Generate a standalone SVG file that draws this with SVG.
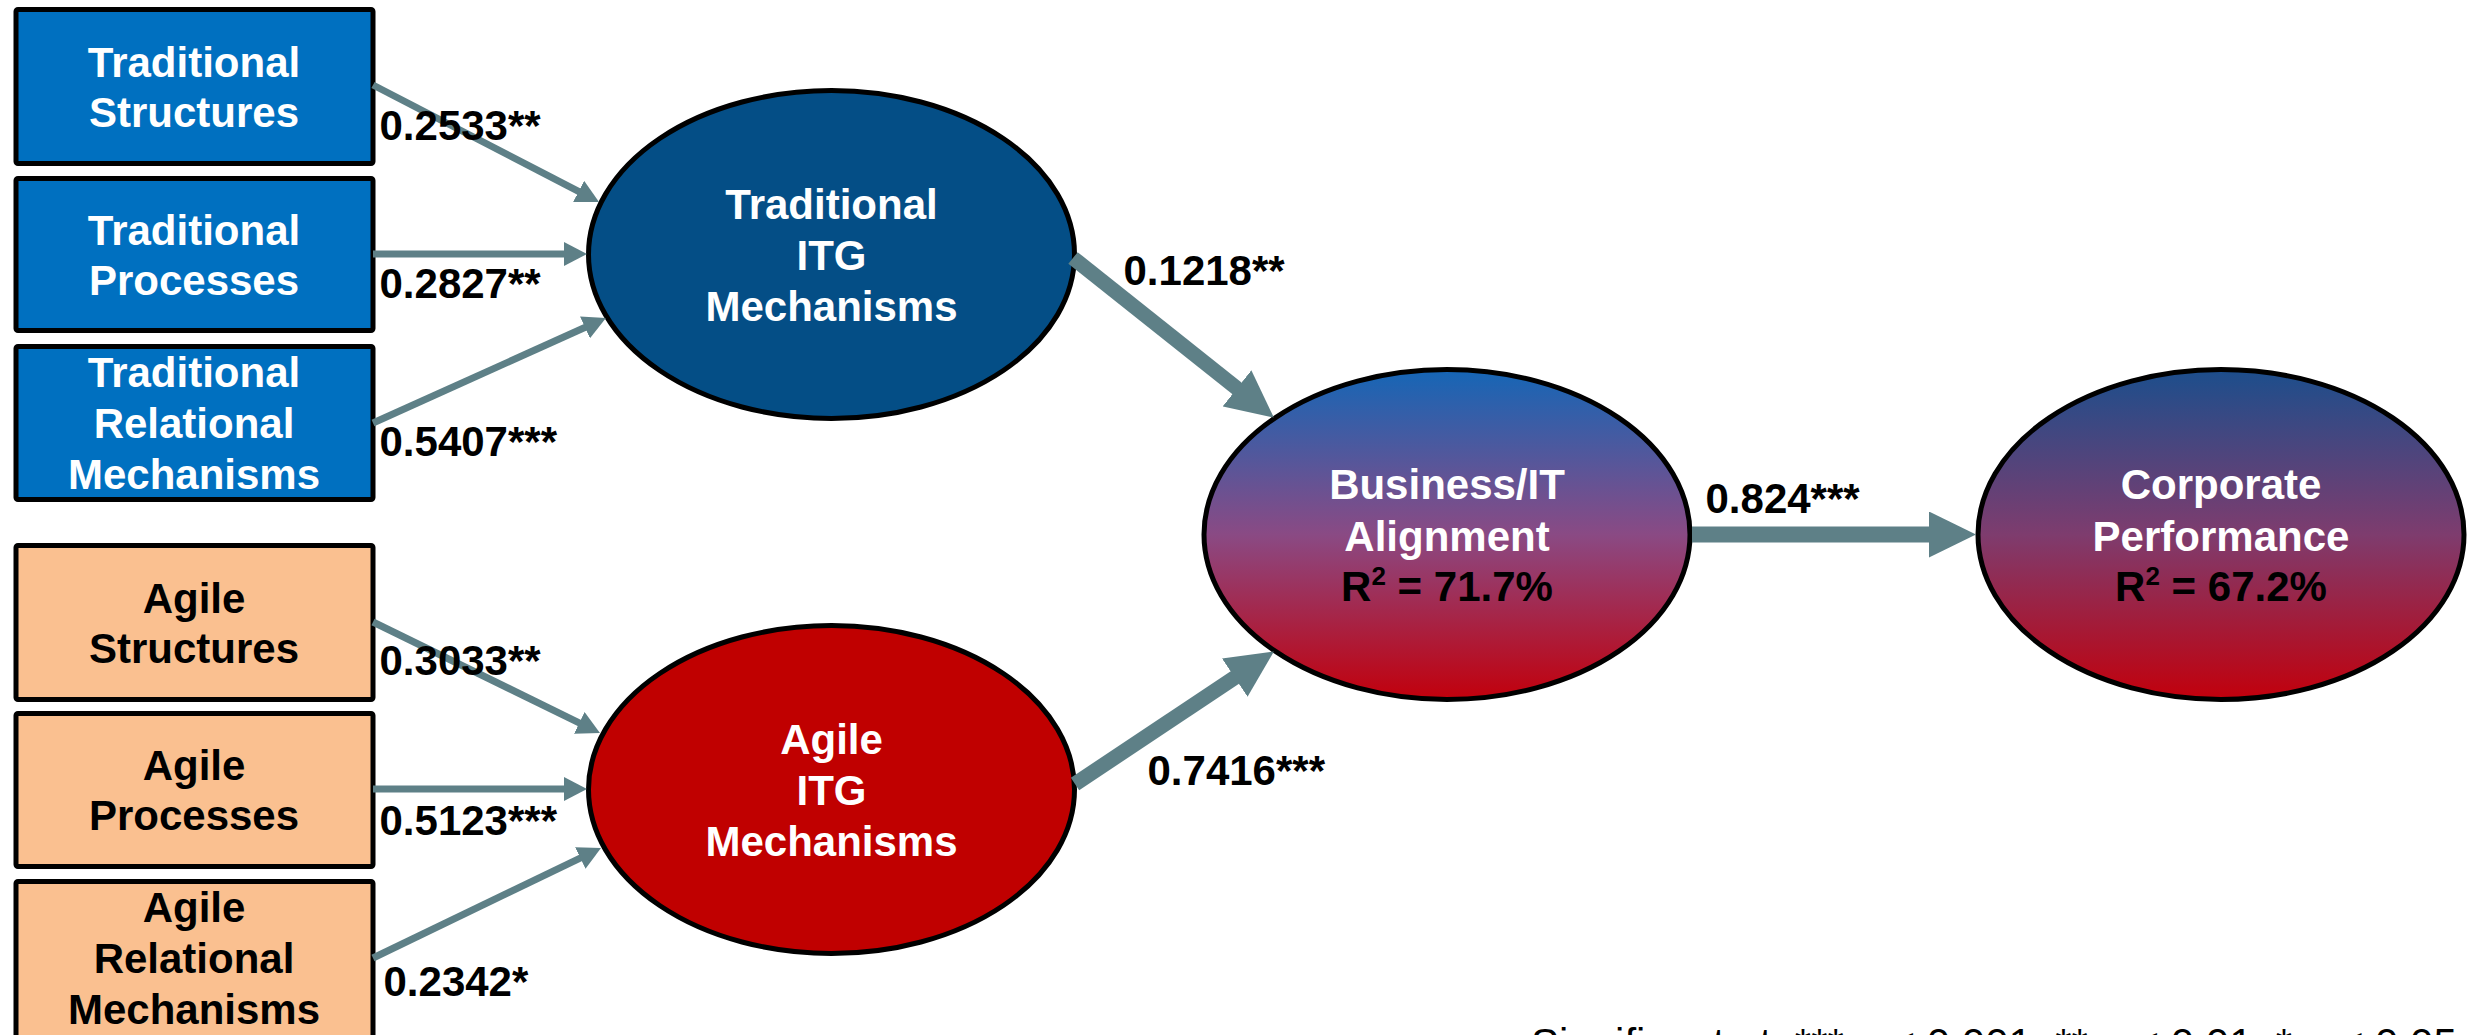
<svg xmlns="http://www.w3.org/2000/svg" width="2478" height="1035" viewBox="0 0 2478 1035">
  <style>
    .box { stroke: #000; stroke-width: 5; }
    .trad { fill: #0070C0; }
    .agile { fill: #FAC090; }
    .ell { stroke: #000; stroke-width: 5; }
    .t { font-family: "Liberation Sans", Arial, sans-serif; font-weight: bold; font-size: 42px; text-anchor: middle; }
    .w { fill: #fff; }
    .k { fill: #000; }
    .lbl { font-family: "Liberation Sans", Arial, sans-serif; font-weight: bold; font-size: 42px; fill: #000; }
    .thin { stroke: #5E8087; stroke-width: 7; fill: none; marker-end: url(#headS); }
    .thick { stroke: #5E8087; stroke-width: 15; fill: none; marker-end: url(#headL); }
    .foot { font-family: "Liberation Sans", Arial, sans-serif; font-size: 42px; fill: #000; }
  </style>
  <defs>
    <marker id="headS" markerUnits="userSpaceOnUse" viewBox="0 0 23 24" markerWidth="23" markerHeight="24" refX="1" refY="12" orient="auto">
      <path d="M0,0 L23,12 L0,24 z" fill="#5E8087"/>
    </marker>
    <marker id="headL" markerUnits="userSpaceOnUse" viewBox="0 0 47 46" markerWidth="47" markerHeight="46" refX="1" refY="23" orient="auto">
      <path d="M0,0 L47,23 L0,46 z" fill="#5E8087"/>
    </marker>
    <linearGradient id="gBus" x1="0" y1="0" x2="0" y2="1">
      <stop offset="0" stop-color="#1566B6"/>
      <stop offset="0.5" stop-color="#8A4A84"/>
      <stop offset="1" stop-color="#C2000C"/>
    </linearGradient>
    <linearGradient id="gCorp" x1="0" y1="0" x2="0" y2="1">
      <stop offset="0" stop-color="#1C4E8C"/>
      <stop offset="0.5" stop-color="#7E3C6E"/>
      <stop offset="1" stop-color="#C2000C"/>
    </linearGradient>
  </defs>

  <rect width="2478" height="1035" fill="#fff"/>

  <g id="trad-structures">
    <rect class="box trad" x="16" y="9.5" width="357" height="154" rx="2"/>
    <text class="t w" x="194" y="77">Traditional</text>
    <text class="t w" x="194" y="127">Structures</text>
  </g>
  <g id="trad-processes">
    <rect class="box trad" x="16" y="178.5" width="357" height="152" rx="2"/>
    <text class="t w" x="194" y="245">Traditional</text>
    <text class="t w" x="194" y="295">Processes</text>
  </g>
  <g id="trad-relational">
    <rect class="box trad" x="16" y="346.5" width="357" height="153" rx="2"/>
    <text class="t w" x="194" y="387">Traditional</text>
    <text class="t w" x="194" y="438">Relational</text>
    <text class="t w" x="194" y="489">Mechanisms</text>
  </g>
  <g id="agile-structures">
    <rect class="box agile" x="16" y="545.5" width="357" height="154" rx="2"/>
    <text class="t k" x="194" y="613">Agile</text>
    <text class="t k" x="194" y="663">Structures</text>
  </g>
  <g id="agile-processes">
    <rect class="box agile" x="16" y="713.5" width="357" height="153" rx="2"/>
    <text class="t k" x="194" y="780">Agile</text>
    <text class="t k" x="194" y="830">Processes</text>
  </g>
  <g id="agile-relational">
    <rect class="box agile" x="16" y="881.5" width="357" height="170" rx="2"/>
    <text class="t k" x="194" y="922">Agile</text>
    <text class="t k" x="194" y="973">Relational</text>
    <text class="t k" x="194" y="1024">Mechanisms</text>
  </g>

  <g id="trad-itg">
    <ellipse class="ell" cx="831.5" cy="254.5" rx="243" ry="164" fill="#044E86"/>
    <text class="t w" x="831.5" y="219">Traditional</text>
    <text class="t w" x="831.5" y="270">ITG</text>
    <text class="t w" x="831.5" y="321">Mechanisms</text>
  </g>
  <g id="agile-itg">
    <ellipse class="ell" cx="831.5" cy="789.5" rx="243" ry="164" fill="#C00000"/>
    <text class="t w" x="831.5" y="754">Agile</text>
    <text class="t w" x="831.5" y="805">ITG</text>
    <text class="t w" x="831.5" y="856">Mechanisms</text>
  </g>
  <g id="business-it-alignment">
    <ellipse class="ell" cx="1447" cy="534.5" rx="243" ry="165" fill="url(#gBus)"/>
    <text class="t w" x="1447" y="499">Business/IT</text>
    <text class="t w" x="1447" y="551">Alignment</text>
    <text class="t k" x="1447" y="601">R<tspan font-size="26" dy="-16">2</tspan><tspan dy="16"> = 71.7%</tspan></text>
  </g>
  <g id="corporate-performance">
    <ellipse class="ell" cx="2221" cy="534.5" rx="243" ry="165" fill="url(#gCorp)"/>
    <text class="t w" x="2221" y="499">Corporate</text>
    <text class="t w" x="2221" y="551">Performance</text>
    <text class="t k" x="2221" y="601">R<tspan font-size="26" dy="-16">2</tspan><tspan dy="16"> = 67.2%</tspan></text>
  </g>

  <g id="connectors">
    <line class="thin" x1="373" y1="85" x2="579.5" y2="191.9"/>
    <line class="thin" x1="373" y1="254" x2="565" y2="254"/>
    <line class="thin" x1="373" y1="423" x2="585.9" y2="327"/>
    <line class="thin" x1="373" y1="622" x2="580.2" y2="723.3"/>
    <line class="thin" x1="373" y1="789" x2="565" y2="789"/>
    <line class="thin" x1="373" y1="958" x2="581.2" y2="857.6"/>
    <line class="thick" x1="1073" y1="258" x2="1237.8" y2="389"/>
    <line class="thick" x1="1075" y1="784" x2="1235.6" y2="677"/>
    <line class="thick" x1="1692" y1="534.5" x2="1930" y2="534.5" style="stroke-width:16"/>
  </g>

  <g id="labels">
    <text class="lbl" x="379.5" y="140">0.2533**</text>
    <text class="lbl" x="379.5" y="298">0.2827**</text>
    <text class="lbl" x="379.5" y="456">0.5407***</text>
    <text class="lbl" x="379.5" y="675">0.3033**</text>
    <text class="lbl" x="379.5" y="835">0.5123***</text>
    <text class="lbl" x="383.5" y="996">0.2342*</text>
    <text class="lbl" x="1123.5" y="285">0.1218**</text>
    <text class="lbl" x="1147.5" y="785">0.7416***</text>
    <text class="lbl" x="1705.5" y="513">0.824***</text>
  </g>

  <text class="foot" x="1531" y="1058">Significant at: *** p &lt; 0.001, ** p &lt; 0.01, * p &lt; 0.05</text>
</svg>
